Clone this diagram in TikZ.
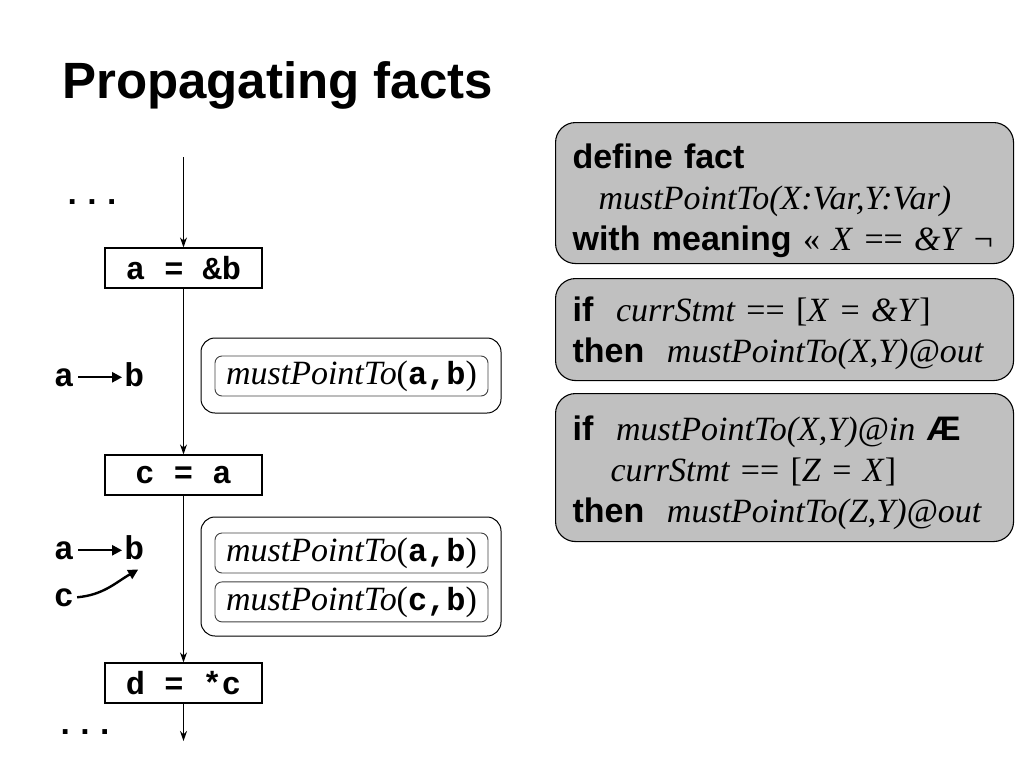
\documentclass[tikz,border=0pt]{standalone}
\usepackage{fontspec}
\setmainfont{Liberation Sans}
\setmonofont{Liberation Mono}
\newfontfamily\tmsfont{Liberation Serif}
\usetikzlibrary{positioning,arrows.meta}
\definecolor{rulegray}{HTML}{C0C0C0}
\definecolor{edgegray}{HTML}{404040}
\newcommand{\tms}[1]{{\tmsfont #1}}
\newcommand{\tmsit}[1]{{\tmsfont\itshape #1}}
\newcommand{\cvar}[1]{{\fontsize{32}{36}\selectfont\ttfamily\bfseries #1}}
\begin{document}
\begin{tikzpicture}[x=1pt,y=1pt,
    every node/.style={font=\fontsize{34}{41}\selectfont},
    stmt/.style={draw, line width=1.2pt, minimum width=157pt,
      minimum height=40pt, inner sep=0pt,
      font=\fontsize{32}{36}\selectfont\ttfamily\bfseries},
    flow/.style={line width=1.1pt, -{Stealth[length=10pt,width=7pt]}},
    factset/.style={draw, rounded corners=14pt, line width=1pt,
      minimum width=300pt, inner sep=0pt},
    fact/.style={draw=edgegray, rounded corners=7pt, line width=0.9pt,
      minimum width=273pt, minimum height=40pt, inner sep=0pt},
    rulebox/.style={draw, fill=rulegray, rounded corners=20pt,
      line width=1.1pt, text width=424pt, inner xsep=17pt, inner ysep=0pt,
      align=left, anchor=north west},
    pvar/.style={inner sep=0pt, anchor=base,
      font=\fontsize{33}{36}\selectfont\ttfamily\bfseries},
    pts/.style={line width=2.4pt, -{Triangle[length=10pt,width=10pt]}}
  ]
  \useasboundingbox (0,0) rectangle (1024,-768);

  \node[anchor=base west, inner sep=0pt, font=\fontsize{51}{60}\selectfont\bfseries]
    (title) at (62,-98) {Propagating facts};

  % control flow
  \coordinate (top) at (183.5,-157);
  \coordinate (bot) at (183.5,-741);
  \node[stmt] (s1) at (183.5,-268) {a = \&b};
  \node[stmt] (s2) at (183.5,-475) {c = a};
  \node[stmt] (s3) at (183.5,-683) {d = *c};
  \node[pvar] (dots1) at (92,-204) {...};
  \node[pvar] (dots2) at (85,-734) {...};
  \draw[flow] (top) -- (s1.north);
  \draw[flow] (s1.south) -- (s2.north);
  \draw[flow] (s2.south) -- (s3.north);
  \draw[flow] (s3.south) -- (bot);

  % points-to pictures
  \node[pvar] (a1) at (64,-386) {a};
  \node[pvar, base right=50pt of a1] (b1) {b};
  \draw[pts] ([xshift=4pt]a1.east) -- ([xshift=-2pt]a1.east -| b1.west);
  \node[pvar] (a2) at (64,-559) {a};
  \node[pvar, base right=50pt of a2] (b2) {b};
  \node[pvar] (c2) at (64,-606) {c};
  \draw[pts] ([xshift=4pt]a2.east) -- ([xshift=-2pt]a2.east -| b2.west);
  \draw[pts] ([xshift=3pt]c2.east) to[out=5,in=210] ([xshift=4pt,yshift=-10pt]b2.south);

  % fact sets
  \node[factset, minimum height=75pt] (set1) at (351,-375.5) {};
  \node[fact] (f1) at (351.5,-376)
    {\tmsit{mustPointTo}\tms{(}\cvar{a,b}\tms{)}};
  \node[factset, minimum height=119pt] (set2) at (351,-576.5) {};
  \node[fact] (f2) at (351.5,-553)
    {\tmsit{mustPointTo}\tms{(}\cvar{a,b}\tms{)}};
  \node[fact, below=8pt of f2] (f3)
    {\tmsit{mustPointTo}\tms{(}\cvar{c,b}\tms{)}};

  % rules
  \node[rulebox, minimum height=141pt] (def) at (555,-122) {
    \rule{0pt}{41pt}\textbf{define fact}\\
    \hspace*{26pt}\tmsit{mustPointTo(X:Var,Y:Var)}\\
    \textbf{with meaning} \tms{« \textit{X} == \textit{\&Y} ¬}
  };
  \node[rulebox, minimum height=102pt] (gen) at (555,-278) {
    \rule{0pt}{33pt}\textbf{if}\ \ \tmsit{currStmt} \tms{== [\textit{X} = \textit{\&Y}]}\\
    \textbf{then}\ \ \tmsit{mustPointTo(X,Y)@out}
  };
  \node[rulebox, minimum height=148pt] (copy) at (555,-393) {
    \rule{0pt}{35pt}\textbf{if}\ \ \tmsit{mustPointTo(X,Y)@in} \textbf{Æ}\\
    \hspace*{38pt}\tmsit{currStmt} \tms{== [\textit{Z} = \textit{X}]}\\
    \textbf{then}\ \ \tmsit{mustPointTo(Z,Y)@out}
  };
\end{tikzpicture}
\end{document}
